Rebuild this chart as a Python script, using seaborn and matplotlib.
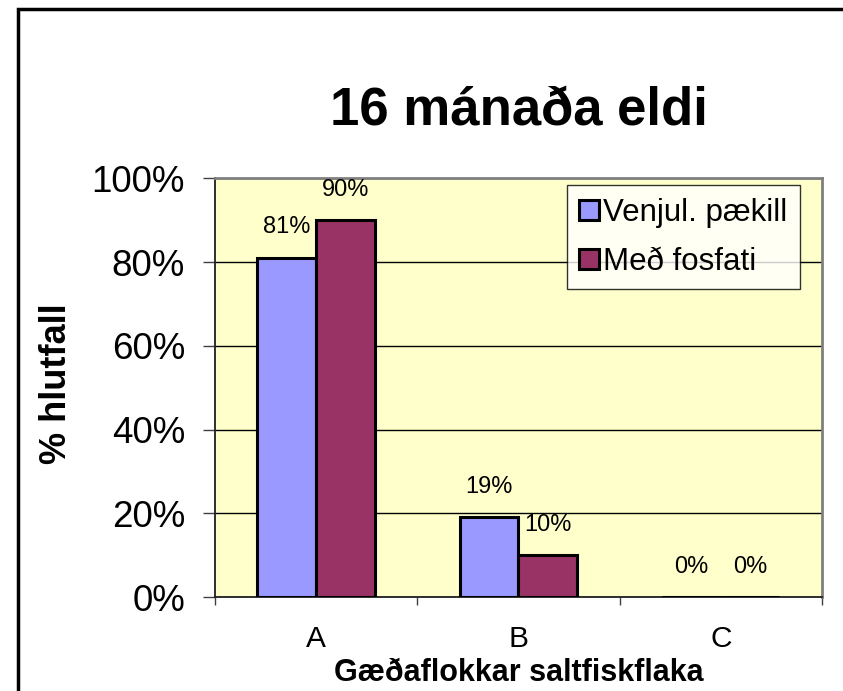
import pandas as pd
import matplotlib.pyplot as plt
import matplotlib.ticker as mticker
from matplotlib.patches import Rectangle
import seaborn as sns

# Data
categories = ['A', 'B', 'C']
series = ['Venjul. pækill', 'Með fosfati']
venjul = [81, 19, 0]
fosfat = [90, 10, 0]
colors = ['#9999FF', '#993366']

df = pd.DataFrame({
    'flokkur': categories * 2,
    'hlutfall': venjul + fosfat,
    'aðferð': [series[0]] * 3 + [series[1]] * 3,
})

sns.set_style('white')
plt.rcParams['font.family'] = ['Liberation Sans', 'DejaVu Sans']
plt.rcParams['text.color'] = 'black'
plt.rcParams['axes.labelcolor'] = 'black'
plt.rcParams['xtick.color'] = 'black'
plt.rcParams['ytick.color'] = 'black'

fig = plt.figure(figsize=(8.43, 6.91), dpi=100)
ax = fig.add_axes([0.255, 0.136, 0.72, 0.606])
ax.set_facecolor('#FFFFCC')

sns.barplot(data=df, x='flokkur', y='hlutfall', hue='aðferð', palette=colors,
            saturation=1, width=0.58, gap=0, edgecolor='black', linewidth=2.2,
            ax=ax, zorder=3)

# data labels
for cont, vals in zip(ax.containers, [venjul, fosfat]):
    ax.bar_label(cont, labels=[f'{v}%' for v in vals], padding=14, fontsize=17,
                 color='black')

# axes
ax.set_ylim(0, 100)
ax.set_xlim(-0.5, 2.5)
ax.yaxis.set_major_locator(mticker.MultipleLocator(20))
ax.yaxis.set_major_formatter(mticker.FuncFormatter(lambda v, p: f'{v:.0f}%'))
ax.grid(axis='y', color='black', linewidth=1, zorder=0)
ax.set_axisbelow(True)
ax.tick_params(axis='y', labelsize=26.5, length=8.5, width=1, pad=13,
               direction='out', left=True, color='#404040')
ax.tick_params(axis='x', which='major', labelsize=21.5, length=0, pad=20)
ax.set_xticks([-0.5, 0.5, 1.5, 2.5], minor=True)
ax.tick_params(axis='x', which='minor', length=6, width=1, direction='out',
               bottom=True, color='#404040')

for s in ['top', 'right']:
    ax.spines[s].set_color('#808080')
    ax.spines[s].set_linewidth(2)
for s in ['left', 'bottom']:
    ax.spines[s].set_color('#202020')
    ax.spines[s].set_linewidth(1.3)

ax.set_title('16 mánaða eldi', fontsize=38, fontweight='bold', y=1.126, pad=0)
ax.set_xlabel('Gæðaflokkar saltfiskflaka', fontsize=22, fontweight='bold')
ax.xaxis.set_label_coords(0.5, -0.146)
ax.set_ylabel('% hlutfall', fontsize=26, fontweight='bold')
ax.yaxis.set_label_coords(-0.232, 0.51)

leg = ax.legend(loc='upper right', bbox_to_anchor=(0.964, 0.983), borderaxespad=0,
                fontsize=22.5, frameon=True, fancybox=False, edgecolor='black',
                handlelength=0.62, handleheight=0.62, handletextpad=0.15,
                labelspacing=0.6, borderpad=0.4, title=None)
leg.get_frame().set_linewidth(1)
leg.get_frame().set_facecolor('white')

# outer chart border
fig.patches.append(Rectangle((18 / 843, -0.05), 1.0, 1.0 + 0.05 - 9 / 691,
                             transform=fig.transFigure, fill=False,
                             edgecolor='black', linewidth=2.5, clip_on=False))

fig.savefig('out.png', dpi=100)
